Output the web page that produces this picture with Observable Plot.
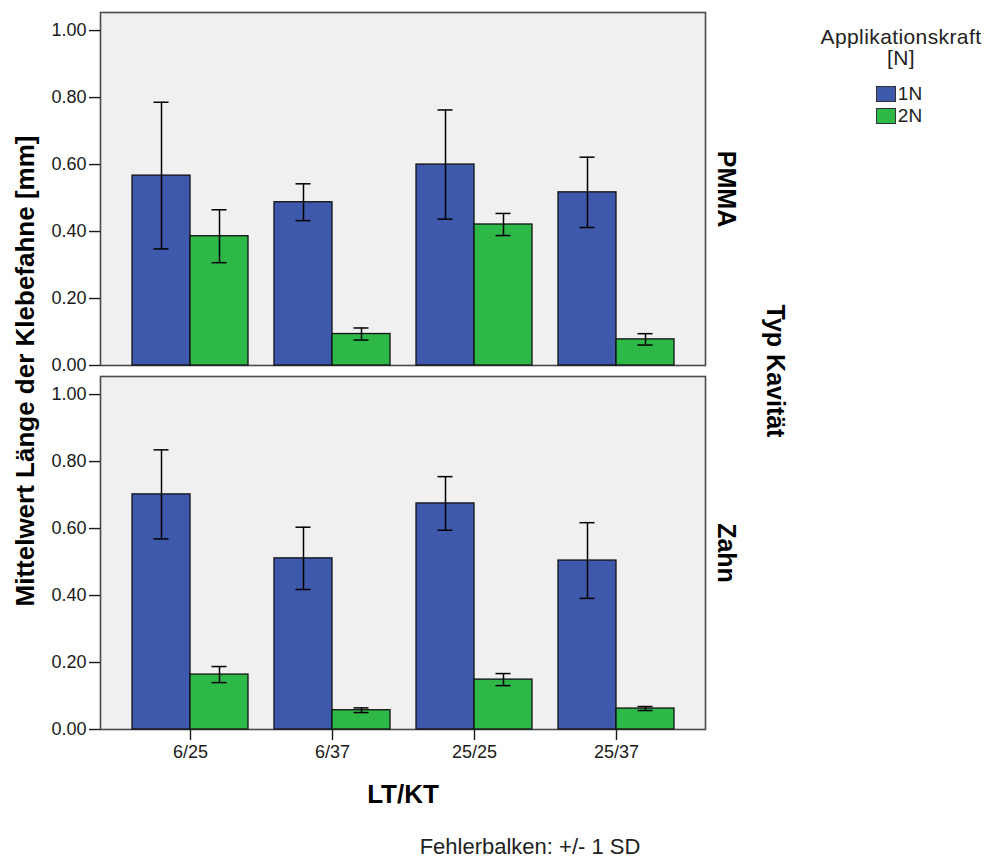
<!DOCTYPE html>
<html>
<head>
<meta charset="utf-8">
<script src="https://cdn.jsdelivr.net/npm/d3@7"></script>
<script src="https://cdn.jsdelivr.net/npm/@observablehq/plot@0.6"></script>
<style>
  body { margin: 0; background: #fff; font-family: "Liberation Sans", Arial, sans-serif; }
  #wrap { position: relative; width: 990px; height: 861px; overflow: hidden; }
  #chart { position: absolute; left: 0; top: 0; }
  #legend { position: absolute; left: 800px; top: 26px; width: 202px; text-align: center; color: #222; }
  #legend .title { font-size: 21px; line-height: 21px; letter-spacing: 0.4px; }
  #legend .items { display: inline-block; text-align: left; margin-top: 15px; margin-left: -4px; }
  #legend .item { height: 22px; display: flex; align-items: center; font-size: 19px; color: #222; }
  #legend .sw { width: 20px; height: 16px; border: 1px solid #333; margin-right: 2px; box-sizing: border-box; }
  #caption { position: absolute; top: 836px; left: 530px; transform: translateX(-50%); font-size: 22px; line-height: 22px; color: #222; white-space: nowrap; }
</style>
</head>
<body>
<div id="wrap">
  <div id="chart"></div>
  <div id="legend"></div>
  <div id="caption"></div>
</div>
<script>
// ---- data ----
const categories = ["6/25", "6/37", "25/25", "25/37"];
const panels = ["PMMA", "Zahn"];
const groups = ["1N", "2N"];
const colors = ["#3E58AC", "#2EB848"];
const yTicks = [0, 0.2, 0.4, 0.6, 0.8, 1.0];

const meanPMMA1N = [0.567, 0.4875, 0.600, 0.517];
const sdPMMA1N   = [0.219, 0.055, 0.163, 0.105];
const meanPMMA2N = [0.386, 0.094, 0.421, 0.078];
const sdPMMA2N   = [0.079, 0.018, 0.033, 0.017];
const meanZahn1N = [0.702, 0.511, 0.675, 0.5045];
const sdZahn1N   = [0.133, 0.093, 0.080, 0.113];
const meanZahn2N = [0.164, 0.0575, 0.149, 0.0626];
const sdZahn2N   = [0.024, 0.007, 0.018, 0.006];

const legendTitle = "Applikationskraft [N]";
const xLabel = "LT/KT";
const yLabel = "Mittelwert Länge der Klebefahne [mm]";
const fyLabel = "Typ Kavität";
const captionText = "Fehlerbalken: +/- 1 SD";

// ---- table ----
const series = [
  ["PMMA", "1N", meanPMMA1N, sdPMMA1N],
  ["PMMA", "2N", meanPMMA2N, sdPMMA2N],
  ["Zahn", "1N", meanZahn1N, sdZahn1N],
  ["Zahn", "2N", meanZahn2N, sdZahn2N]
];
const data = series.flatMap(([panel, group, means, sds]) =>
  categories.map((category, i) => ({panel, group, category, mean: means[i], sd: sds[i]})));
const g1 = data.filter(d => d.group === groups[0]);
const g2 = data.filter(d => d.group === groups[1]);

const half = 58;      // half of the band (one bar)
const capHalf = 7.5;  // half-width of error caps
const font = "Liberation Sans, Arial, sans-serif";

const errMarks = (rows, side) => {
  const dx = side < 0 ? -half / 2 : half / 2;
  const capIn = side < 0
    ? {insetLeft: half / 2 - capHalf, insetRight: half * 1.5 - capHalf}
    : {insetLeft: half * 1.5 - capHalf, insetRight: half / 2 - capHalf};
  return [
    Plot.ruleX(rows, {x: "category", fy: "panel", y1: d => d.mean - d.sd, y2: d => d.mean + d.sd, dx, stroke: "#000", strokeWidth: 1.5}),
    Plot.tickY(rows, {x: "category", fy: "panel", y: d => d.mean - d.sd, stroke: "#000", strokeWidth: 1.5, ...capIn}),
    Plot.tickY(rows, {x: "category", fy: "panel", y: d => d.mean + d.sd, stroke: "#000", strokeWidth: 1.5, ...capIn})
  ];
};

const titleStyle = {fontSize: 25, fontWeight: "bold", fill: "#000", lineAnchor: "middle", textAnchor: "middle"};

const chart = Plot.plot({
  width: 990,
  height: 815,
  marginTop: 11,
  marginBottom: 86,
  marginLeft: 100,
  marginRight: 285,
  style: {fontFamily: font, color: "#1a1a1a", background: "transparent"},
  x: {domain: categories, paddingInner: 0.186, paddingOuter: 0.216},
  y: {domain: [0, 1.054]},
  fy: {domain: panels, paddingInner: 0.0315, paddingOuter: 0, axis: null},
  color: {domain: groups, range: colors},
  marks: [
    Plot.frame({fill: "#f0f0f0", stroke: "#4a4a4a", strokeWidth: 1.6}),
    Plot.barY(g1, {x: "category", y: "mean", fy: "panel", fill: "group", stroke: "#111", strokeWidth: 1.3, insetRight: half}),
    Plot.barY(g2, {x: "category", y: "mean", fy: "panel", fill: "group", stroke: "#111", strokeWidth: 1.3, insetLeft: half}),
    ...errMarks(g1, -1),
    ...errMarks(g2, 1),
    Plot.axisY({ticks: yTicks, tickFormat: d3.format(".2f"), tickSize: 11, tickPadding: 3, fontSize: 18, strokeWidth: 1.4, label: null}),
    Plot.axisX({tickSize: 11, tickPadding: 5, fontSize: 18, strokeWidth: 1.4, label: null}),
    Plot.text(panels, {fy: d => d, text: d => d, frameAnchor: "right", dx: 20, rotate: 90, ...titleStyle}),
    Plot.text([fyLabel], {facet: "super", frameAnchor: "right", dx: 69, rotate: 90, ...titleStyle}),
    Plot.text([yLabel], {facet: "super", frameAnchor: "left", dx: -75, rotate: -90, ...titleStyle, fontSize: 26}),
    Plot.text([xLabel], {facet: "super", frameAnchor: "bottom", dy: 65, ...titleStyle, fontSize: 26})
  ]
});
document.getElementById("chart").appendChild(chart);

// ---- legend ----
const leg = document.getElementById("legend");
const cut = legendTitle.lastIndexOf(" ");
leg.innerHTML = `<div class="title">${legendTitle.slice(0, cut)}<br>${legendTitle.slice(cut + 1)}</div>` +
  `<div class="items">` + groups.map((g, i) =>
    `<div class="item"><span class="sw" style="background:${colors[i]}"></span>${g}</div>`).join("") + `</div>`;
document.getElementById("caption").textContent = captionText;
</script>
</body>
</html>
